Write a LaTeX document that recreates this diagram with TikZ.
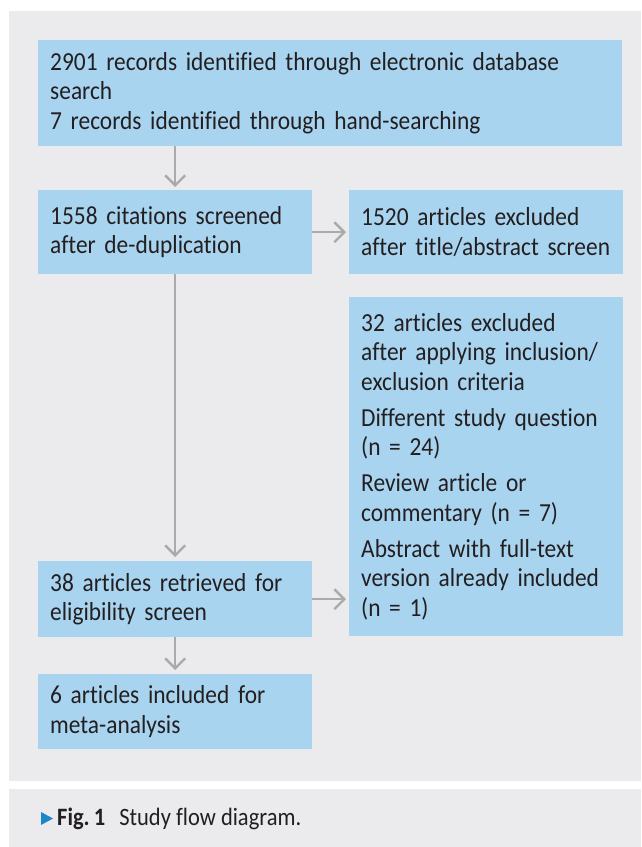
\documentclass[tikz,border=0pt]{standalone}
\usepackage{fontspec}
\setmainfont[Ligatures={NoCommon}, FakeStretch=0.9]{Carlito}
\usetikzlibrary{arrows.meta,positioning}
\definecolor{panelgray}{HTML}{EBEBED}
\definecolor{boxblue}{HTML}{A9D4F0}
\definecolor{arrowgray}{HTML}{AAAAAA}
\definecolor{textdark}{HTML}{231F20}
\definecolor{capblue}{HTML}{1C86C8}

\begin{document}
\begin{tikzpicture}[x=1pt,y=-1pt,
    flowbox/.style={fill=boxblue, anchor=north west, align=left, inner xsep=12pt, inner ysep=0pt,
      text=textdark, font=\fontsize{26}{29.5}\selectfont},
    flowarrow/.style={draw=arrowgray, line width=2.4pt,
      -{Straight Barb[length=10pt,width=20pt,line width=2.4pt]}}]
    \useasboundingbox (0,0) rectangle (641,847);
    % panels
    \fill[panelgray] (9,11) rectangle (641,781);
    \fill[panelgray] (9,789) rectangle (641,847);
    % boxes
    \node[flowbox, text width=560pt, minimum height=106pt] (records) at (38,40)
        {2901 records identified through electronic database\\search\\7 records identified through hand-searching};
    \node[flowbox, text width=250pt, minimum height=84pt] (screened) at (38,190)
        {1558 citations screened\\after de-duplication};
    \node[flowbox, text width=250pt, minimum height=84pt] (excltitle) at (349,190)
        {1520 articles excluded\\after title/abstract screen};
    \node[flowbox, text width=250pt, minimum height=339pt] (exclcrit) at (349,297)
        {32 articles excluded\\after applying inclusion/\\exclusion criteria\\[6.5pt]
         Different study question\\(n = 24)\\[6.5pt]
         Review article or\\commentary (n = 7)\\[6.5pt]
         Abstract with full-text\\version already included\\(n = 1)};
    \node[flowbox, text width=250pt, minimum height=76pt] (retrieved) at (38,561)
        {38 articles retrieved for\\eligibility screen};
    \node[flowbox, text width=250pt, minimum height=75pt] (included) at (38,674)
        {6 articles included for\\meta-analysis};
    % connectors
    \draw[flowarrow, shorten >=3pt] (screened.north |- records.south) -- (screened.north);
    \draw[flowarrow, shorten >=3pt] (screened.east) -- (excltitle.west);
    \draw[flowarrow, shorten >=4pt] (screened.south) -- (retrieved.north);
    \draw[flowarrow, shorten >=3pt] (retrieved.east) -- (retrieved.east -| exclcrit.west);
    \draw[flowarrow, shorten >=4pt] (retrieved.south) -- (included.north);
    % caption
    \fill[capblue] (41,812) -- (53,818.5) -- (41,825) -- cycle;
    \node[anchor=west, inner sep=0pt, text=textdark, font=\fontsize{25}{28}\selectfont] (caption) at (57,818.5)
        {\textbf{Fig.\,1}\hspace{14pt}Study flow diagram.};
\end{tikzpicture}
\end{document}
